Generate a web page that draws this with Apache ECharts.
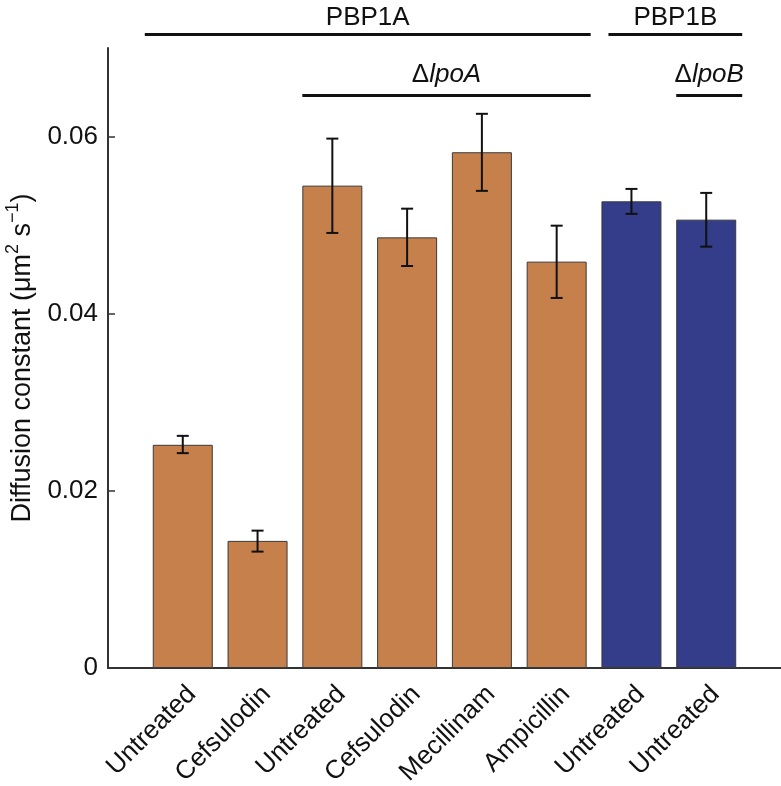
<!DOCTYPE html>
<html>
<head>
<meta charset="utf-8">
<script src="https://cdn.jsdelivr.net/npm/echarts@6/dist/echarts.min.js"></script>
<style>html,body{margin:0;padding:0;background:#fff;}#c{width:781px;height:786px;}</style>
</head>
<body>
<div id="c"></div>
<script>
// ---- data ----
const categories = ['Untreated', 'Cefsulodin', 'Untreated', 'Cefsulodin', 'Mecillinam', 'Ampicillin', 'Untreated', 'Untreated'];
const groups = ['PBP1A', 'PBP1A', 'PBP1A', 'PBP1A', 'PBP1A', 'PBP1A', 'PBP1B', 'PBP1B'];
const values = [0.0252, 0.01435, 0.05446, 0.04862, 0.05823, 0.04588, 0.05269, 0.05062];
const errLow = [0.02426, 0.01314, 0.04912, 0.04539, 0.05387, 0.04178, 0.05127, 0.04757];
const errHigh = [0.02621, 0.01551, 0.05977, 0.05186, 0.06257, 0.04994, 0.05409, 0.05364];
const yTicks = [0, 0.02, 0.04, 0.06];
const bracketNames = ['PBP1A', 'PBP1B', '\u0394lpoA', '\u0394lpoB'];
const bracketFirst = [0, 6, 2, 7];
const bracketLast = [5, 7, 5, 7];
const bracketLevel = [0, 0, 1, 1];

// ---- style ----
const FONT = 'Liberation Sans, Arial, Helvetica, sans-serif';
const groupColor = { PBP1A: '#C6804B', PBP1B: '#333D8A' };
const levelValue = [0.07153, 0.06463];        // y position of bracket lines (data units)
const bracketExt = [[38, 34], [23, 36], [30, 34], [30, 36]]; // px extension beyond bar centres

const axisCats = [''].concat(categories, ['']);
const barData = ['-'].concat(values.map((v, i) => ({ value: v, itemStyle: { color: groupColor[groups[i]] } })), ['-']);
const errData = values.map((v, i) => [i + 1, errLow[i], errHigh[i]]);
const brData = bracketNames.map((n, i) => [bracketFirst[i] + 1, bracketLast[i] + 1, levelValue[bracketLevel[i]], i]);

const chart = echarts.init(document.getElementById('c'), null, { renderer: 'canvas' });
chart.setOption({
  animation: false,
  backgroundColor: '#fff',
  grid: { left: 108, right: 0, top: 48, bottom: 118, containLabel: false, outerBoundsMode: 'none' },
  xAxis: {
    type: 'category',
    data: axisCats,
    boundaryGap: false,
    axisLine: { lineStyle: { color: '#333', width: 2 } },
    axisTick: { show: false },
    splitLine: { show: false },
    axisLabel: {
      interval: 0, rotate: 45, margin: 13, verticalAlign: 'top',
      fontFamily: FONT, fontSize: 26, color: '#111'
    }
  },
  yAxis: {
    type: 'value', min: 0, max: 0.07,
    name: '{a|Diffusion constant (\u03bcm}{s|2}{a| s}{s|\u22121}{a|)}',
    nameLocation: 'middle', nameGap: 70, nameRotate: 90,
    nameTextStyle: {
      rich: {
        a: { fontFamily: FONT, fontSize: 27, color: '#111', lineHeight: 32, verticalAlign: 'bottom' },
        s: { fontFamily: FONT, fontSize: 18, color: '#111', lineHeight: 32, verticalAlign: 'top' }
      }
    },
    axisLine: { show: true, lineStyle: { color: '#333', width: 2 } },
    axisTick: { show: true, inside: true, length: 7, lineStyle: { color: '#333', width: 1.5 }, customValues: yTicks.slice(1) },
    axisLabel: {
      customValues: yTicks, margin: 10,
      fontFamily: FONT, fontSize: 26, color: '#111',
      formatter: v => (v === 0 ? '0' : v.toFixed(2))
    },
    splitLine: { show: false }
  },
  series: [
    {
      type: 'bar', data: barData, barWidth: 60,
      itemStyle: { borderColor: '#3a3a3a', borderWidth: 1 }
    },
    {
      type: 'custom', data: errData, z: 5,
      renderItem: (params, api) => {
        const x = api.value(0);
        const lo = api.coord([x, api.value(1)]);
        const hi = api.coord([x, api.value(2)]);
        const cw = 6;
        const st = { stroke: '#111', lineWidth: 2 };
        return {
          type: 'group', children: [
            { type: 'line', shape: { x1: lo[0], y1: lo[1], x2: hi[0], y2: hi[1] }, style: st },
            { type: 'line', shape: { x1: lo[0] - cw, y1: lo[1], x2: lo[0] + cw, y2: lo[1] }, style: st },
            { type: 'line', shape: { x1: hi[0] - cw, y1: hi[1], x2: hi[0] + cw, y2: hi[1] }, style: st }
          ]
        };
      }
    },
    {
      type: 'custom', data: brData, clip: false, z: 6,
      renderItem: (params, api) => {
        const k = api.value(3);
        const a = api.coord([api.value(0), api.value(2)]);
        const b = api.coord([api.value(1), api.value(2)]);
        const x1 = a[0] - bracketExt[k][0];
        const x2 = b[0] + bracketExt[k][1];
        const name = bracketNames[k];
        const txt = name.charAt(0) === '\u0394' ? '{n|\u0394}{i|' + name.slice(1) + '}' : '{n|' + name + '}';
        const gap = bracketLevel[k] === 0 ? 4 : 8;
        return {
          type: 'group', children: [
            { type: 'line', shape: { x1: x1, y1: a[1], x2: x2, y2: a[1] }, style: { stroke: '#111', lineWidth: 3 } },
            {
              type: 'text',
              style: {
                text: txt, x: (x1 + x2) / 2, y: a[1] - gap,
                align: 'center', verticalAlign: 'bottom',
                rich: {
                  n: { fontFamily: FONT, fontSize: 26, fill: '#111' },
                  i: { fontFamily: FONT, fontSize: 26, fontStyle: 'italic', fill: '#111' }
                }
              }
            }
          ]
        };
      }
    }
  ]
});
</script>
</body>
</html>
